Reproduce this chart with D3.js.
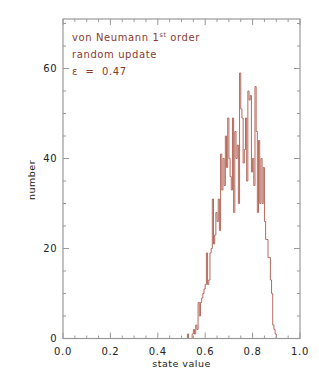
<!DOCTYPE html>
<html>
<head>
<meta charset="utf-8">
<script src="https://cdn.jsdelivr.net/npm/d3@7"></script>
<style>
  body { margin: 0; background: #fff; }
  text { font-family: "DejaVu Sans", sans-serif; white-space: pre; }
</style>
</head>
<body>
<div id="chart"></div>
<script>
// histogram of state values, bin width 0.005 starting at binStart
const binStart = 0.525;
const binWidth = 0.005;
const counts = [
  1, 0, 0, 0, 1, 2, 1, 3, 2, 8,
  5, 8, 9, 10, 11, 12, 19, 12, 13, 19,
  20, 31, 21, 23, 28, 26, 31, 24, 41, 33,
  40, 34, 45, 38, 49, 40, 36, 33, 49, 28,
  46, 40, 43, 30, 59, 51, 49, 39, 42, 49,
  35, 55, 53, 54, 37, 40, 34, 56, 46, 28,
  44, 30, 40, 30, 38, 26, 22, 22, 18, 18,
  13, 10, 3, 2, 1, 0
];
const xTicks = [0, 0.2, 0.4, 0.6, 0.8, 1.0];
const yTicks = [0, 20, 40, 60];
const labelLines = ["random update", "\u03b5  =  0.47"];

const W = 319, H = 379;
const margin = { top: 19, right: 19, bottom: 40.5, left: 63 };
const width = W - margin.left - margin.right;
const height = H - margin.top - margin.bottom;

const svg = d3.select("#chart").append("svg")
  .attr("width", W).attr("height", H);
const g = svg.append("g")
  .attr("transform", `translate(${margin.left},${margin.top})`);

const x = d3.scaleLinear().domain([0, 1]).range([0, width]);
const y = d3.scaleLinear().domain([0, 71]).range([height, 0]);

const axisColor = "#999";
const lineColor = "#b5695c";
const textColor = "#8b3a2e";

// step histogram line over the full range
const pts = [[0, 0], [binStart, 0]];
counts.forEach((c, i) => {
  const a = binStart + i * binWidth;
  pts.push([a, c], [a + binWidth, c]);
});
pts.push([binStart + counts.length * binWidth, 0], [1, 0]);

g.append("path")
  .datum(pts)
  .attr("fill", "none")
  .attr("stroke", lineColor)
  .attr("stroke-width", 1)
  .attr("d", d3.line().x(d => x(d[0])).y(d => y(d[1])));

// frame
g.append("rect")
  .attr("width", width).attr("height", height)
  .attr("fill", "none")
  .attr("stroke", axisColor)
  .attr("stroke-width", 1.2);

// ticks on all four sides
const xMinor = d3.range(0, 1.0001, 0.05);
const yMinor = d3.range(0, 71, 5);
const isMajorX = v => xTicks.some(t => Math.abs(t - v) < 1e-6);
const isMajorY = v => yTicks.includes(v);

xMinor.forEach(v => {
  const len = isMajorX(v) ? 6 : 3;
  g.append("line").attr("x1", x(v)).attr("x2", x(v))
    .attr("y1", height).attr("y2", height - len)
    .attr("stroke", axisColor);
  g.append("line").attr("x1", x(v)).attr("x2", x(v))
    .attr("y1", 0).attr("y2", len)
    .attr("stroke", axisColor);
});
yMinor.forEach(v => {
  const len = isMajorY(v) ? 6 : 3;
  g.append("line").attr("x1", 0).attr("x2", len)
    .attr("y1", y(v)).attr("y2", y(v))
    .attr("stroke", axisColor);
  g.append("line").attr("x1", width).attr("x2", width - len)
    .attr("y1", y(v)).attr("y2", y(v))
    .attr("stroke", axisColor);
});

// tick labels
g.selectAll(".xl").data(xTicks).enter().append("text")
  .attr("x", d => x(d)).attr("y", height + 16)
  .attr("text-anchor", "middle").attr("fill", "#222")
  .style("font-size", "10px").style("letter-spacing", "0.7px")
  .text(d => d.toFixed(1));
g.selectAll(".yl").data(yTicks).enter().append("text")
  .attr("x", -6).attr("y", d => y(d) + 3.5)
  .attr("text-anchor", "end").attr("fill", "#222")
  .style("font-size", "10px").style("letter-spacing", "0.5px")
  .text(d => d);

// axis titles
g.append("text")
  .attr("x", width / 2).attr("y", height + 28)
  .attr("text-anchor", "middle").attr("fill", "#222")
  .style("font-size", "9.5px").style("letter-spacing", "0.5px")
  .text("state value");
g.append("text")
  .attr("transform", "rotate(-90)")
  .attr("x", -(180 - margin.top)).attr("y", -28)
  .attr("text-anchor", "middle").attr("fill", "#222")
  .style("font-size", "9.5px").style("letter-spacing", "0.5px")
  .text("number");

// annotation
const ann = g.append("g").attr("fill", textColor)
  .style("font-size", "10px").style("letter-spacing", "0.6px");
const t1 = ann.append("text").attr("x", 9).attr("y", 22);
t1.append("tspan").text("von Neumann 1");
t1.append("tspan").attr("dy", -4).style("font-size", "6.5px").text("st");
t1.append("tspan").attr("dy", 4).text(" order");
labelLines.forEach((s, i) => {
  ann.append("text").attr("x", 9).attr("y", 39 + i * 17).text(s);
});
</script>
</body>
</html>
